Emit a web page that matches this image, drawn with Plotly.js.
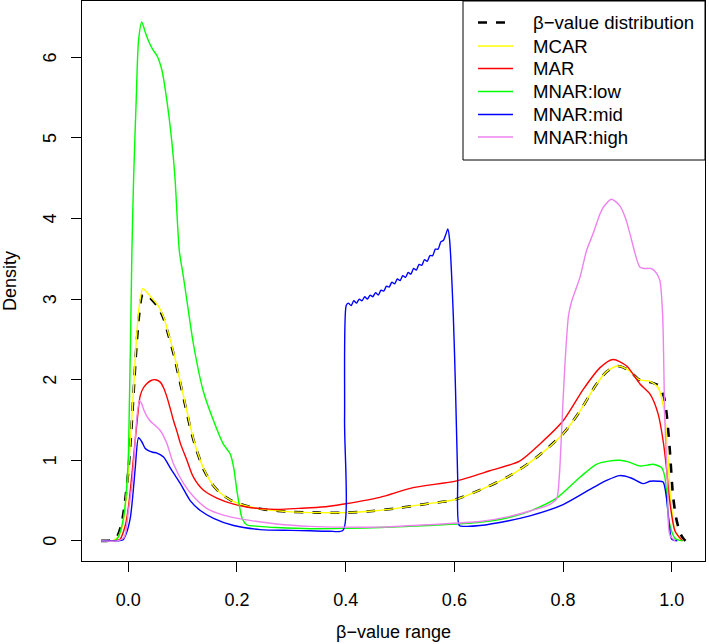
<!DOCTYPE html>
<html>
<head>
<meta charset="utf-8">
<script src="https://cdn.plot.ly/plotly-3.0.1.min.js"></script>
<style>
  html, body { margin: 0; padding: 0; background: #fff; }
  #chart { width: 709px; height: 644px; }
</style>
</head>
<body>
<div id="chart"></div>
<script>
// ---------- Data ----------
const seriesNames = ["β−value distribution", "MCAR", "MAR", "MNAR:low", "MNAR:mid", "MNAR:high"];

const betaX = [-0.05,-0.04,-0.03,-0.02,-0.012,-0.006,0,0.005,0.01,0.015,0.02,0.026,0.033,0.045,0.055,0.065,0.075,0.085,0.095,0.105,0.115,0.125,0.14,0.155,0.17,0.19,0.22,0.25,0.3,0.35,0.4,0.45,0.5,0.55,0.6,0.65,0.7,0.75,0.8,0.83,0.86,0.88,0.9,0.92,0.94,0.96,0.975,0.985,0.99,0.996,1.002,1.008,1.015,1.02,1.025];
const betaY = [0,0,0.01,0.06,0.22,0.48,0.85,1.3,1.85,2.4,2.8,3.05,3.06,2.98,2.9,2.76,2.53,2.28,1.98,1.68,1.38,1.14,0.87,0.7,0.59,0.5,0.43,0.39,0.36,0.35,0.35,0.37,0.41,0.46,0.51,0.64,0.8,1.03,1.33,1.6,1.93,2.1,2.17,2.12,2.0,1.97,1.93,1.8,1.6,1.15,0.57,0.28,0.1,0.04,0];

const mcarX = [-0.05,-0.03,-0.02,-0.01,-0.005,0,0.005,0.01,0.015,0.02,0.027,0.035,0.045,0.055,0.065,0.075,0.085,0.095,0.105,0.115,0.125,0.14,0.155,0.17,0.19,0.22,0.25,0.3,0.35,0.4,0.45,0.5,0.55,0.6,0.65,0.7,0.75,0.8,0.83,0.86,0.88,0.9,0.92,0.94,0.96,0.975,0.985,0.99,0.994,0.998,1.006,1.018];
const mcarY = [0,0,0.04,0.2,0.45,0.85,1.35,1.9,2.5,2.9,3.13,3.08,3.0,2.92,2.78,2.55,2.3,2.0,1.7,1.4,1.15,0.88,0.7,0.59,0.5,0.43,0.39,0.36,0.35,0.35,0.37,0.41,0.46,0.51,0.64,0.8,1.03,1.33,1.6,1.93,2.1,2.17,2.12,2.0,1.98,1.9,1.65,1.33,0.91,0.5,0.12,0];

const marX = [-0.05,-0.03,-0.015,-0.005,0,0.005,0.01,0.016,0.022,0.028,0.034,0.042,0.05,0.059,0.065,0.071,0.077,0.083,0.09,0.096,0.108,0.12,0.138,0.163,0.194,0.218,0.243,0.273,0.304,0.335,0.37,0.4,0.463,0.524,0.604,0.665,0.72,0.757,0.8,0.837,0.868,0.892,0.917,0.941,0.96,0.975,0.984,0.99,0.996,1.006,1.02];
const marY = [0,0,0.02,0.2,0.4,0.7,1.05,1.46,1.8,1.9,1.95,1.99,2.0,1.97,1.9,1.79,1.65,1.5,1.35,1.21,1.0,0.79,0.63,0.53,0.455,0.42,0.4,0.39,0.4,0.41,0.43,0.46,0.54,0.66,0.745,0.87,0.99,1.2,1.49,1.88,2.15,2.25,2.17,1.95,1.82,1.57,1.24,0.91,0.5,0.12,0];

const lowX = [-0.05,-0.025,-0.018,-0.0085,-0.003,0.0006,0.0068,0.01,0.0147,0.019,0.025,0.031,0.037,0.045,0.053,0.062,0.071,0.08,0.086,0.094,0.101,0.108,0.12,0.138,0.157,0.175,0.1875,0.194,0.2,0.205,0.209,0.218,0.24,0.273,0.335,0.4,0.463,0.55,0.647,0.7,0.739,0.788,0.831,0.861,0.884,0.904,0.92,0.941,0.955,0.966,0.981,0.987,0.99,0.996,1.006,1.02];
const lowY = [0,0,0.05,0.29,0.65,1.12,3.6,4.51,5.47,6.21,6.44,6.32,6.21,6.1,6.02,5.84,5.47,4.97,4.51,3.6,3.3,2.98,2.44,1.86,1.49,1.2,1.08,0.91,0.62,0.42,0.29,0.2,0.18,0.165,0.15,0.155,0.165,0.19,0.23,0.29,0.37,0.53,0.79,0.95,0.99,1.0,0.98,0.93,0.94,0.95,0.91,0.8,0.62,0.21,0.03,0];

const midX = [-0.05,-0.02,-0.01,-0.003,0.004,0.009,0.013,0.019,0.025,0.031,0.037,0.045,0.053,0.065,0.077,0.096,0.114,0.132,0.157,0.194,0.243,0.3,0.335,0.37,0.395,0.398,0.401,0.405,0.41,0.415,0.42,0.425,0.43,0.435,0.44,0.445,0.45,0.455,0.46,0.465,0.47,0.475,0.48,0.485,0.49,0.495,0.5,0.505,0.51,0.515,0.52,0.525,0.53,0.535,0.54,0.545,0.55,0.555,0.56,0.565,0.57,0.575,0.58,0.584,0.588,0.591,0.598,0.602,0.606,0.609,0.62,0.647,0.7,0.739,0.8,0.855,0.88,0.904,0.925,0.947,0.96,0.975,0.984,0.99,0.995,1.0,1.01];
const midY = [0,0,0.01,0.1,0.29,0.6,0.91,1.28,1.23,1.15,1.12,1.1,1.09,1.04,0.91,0.71,0.5,0.38,0.28,0.19,0.14,0.13,0.125,0.12,0.13,1.5,2.92,2.95,2.92,2.98,2.95,3.0,2.98,3.03,3.0,3.05,3.03,3.08,3.05,3.11,3.1,3.16,3.15,3.21,3.19,3.25,3.23,3.29,3.27,3.33,3.31,3.38,3.36,3.43,3.42,3.49,3.47,3.54,3.54,3.62,3.62,3.71,3.73,3.8,3.87,3.75,2.8,1.9,0.8,0.19,0.18,0.19,0.25,0.31,0.45,0.66,0.75,0.81,0.78,0.71,0.74,0.74,0.73,0.54,0.21,0.02,0];

const highX = [-0.05,-0.02,-0.007,0,0.007,0.012,0.016,0.021,0.025,0.029,0.034,0.04,0.05,0.059,0.071,0.083,0.102,0.12,0.145,0.175,0.218,0.273,0.335,0.4,0.463,0.55,0.647,0.7,0.739,0.775,0.788,0.793,0.797,0.803,0.81,0.816,0.831,0.843,0.855,0.868,0.874,0.889,0.904,0.915,0.923,0.941,0.95,0.962,0.972,0.978,0.983,0.987,0.992,0.996,1.006];
const highY = [0,0,0.05,0.35,0.71,1.15,1.54,1.74,1.7,1.62,1.55,1.49,1.43,1.37,1.21,0.96,0.71,0.55,0.4,0.32,0.26,0.21,0.18,0.17,0.17,0.2,0.24,0.3,0.37,0.45,0.52,0.8,1.33,2.15,2.8,2.98,3.27,3.6,3.81,4.06,4.14,4.24,4.16,4.0,3.81,3.4,3.38,3.38,3.32,3.23,2.82,1.53,0.7,0.08,0];

const xTickVals = [0, 0.2, 0.4, 0.6, 0.8, 1.0];
const xTickText = ["0.0", "0.2", "0.4", "0.6", "0.8", "1.0"];
const yTickVals = [0, 1, 2, 3, 4, 5, 6];
const yTickText = ["0", "1", "2", "3", "4", "5", "6"];

// ---------- Styling ----------
const FONT = "Liberation Sans, Arial, Helvetica, sans-serif";
const seriesColors = ["#000000", "#FFFF00", "#FF0000", "#00FF00", "#0000FF", "#EE82EE"];
const seriesWidths = [2.6, 1.4, 1.4, 1.4, 1.4, 1.4];
const seriesDash = ["9px,9px", "solid", "solid", "solid", "solid", "solid"];
const seriesX = [betaX, mcarX, marX, lowX, midX, highX];
const seriesY = [betaY, mcarY, marY, lowY, midY, highY];

const W = 709, H = 644;
const M = { l: 82, r: 4, t: 1, b: 83 };
const plotW = W - M.l - M.r, plotH = H - M.t - M.b;
const px2paperX = (px) => (px - M.l) / plotW;
const py2paperY = (py) => (H - M.b - py) / plotH;

const traces = seriesNames.map((name, i) => ({
  type: "scatter", mode: "lines", name: name,
  x: seriesX[i], y: seriesY[i],
  line: { color: seriesColors[i], width: seriesWidths[i], dash: seriesDash[i], shape: "spline", smoothing: 0.7 },
  hoverinfo: "skip", showlegend: false
}));

// ---------- R-style legend box (top right) ----------
const legBox = { x0: 463, x1: 705, y0: 1, y1: 160 };
const legRowY = [22.5, 46, 68.5, 91.5, 114.5, 137];
const legLineX = [478, 513];
const legTextX = 531;

const shapes = [{
  type: "rect", xref: "paper", yref: "paper", layer: "above",
  x0: px2paperX(legBox.x0), x1: px2paperX(legBox.x1),
  y0: py2paperY(legBox.y1), y1: py2paperY(legBox.y0),
  line: { color: "#000000", width: 1 }, fillcolor: "#ffffff"
}];
const annotations = [];
seriesNames.forEach((name, i) => {
  shapes.push({
    type: "line", xref: "paper", yref: "paper", layer: "above",
    x0: px2paperX(legLineX[0]), x1: px2paperX(legLineX[1]),
    y0: py2paperY(legRowY[i]), y1: py2paperY(legRowY[i]),
    line: { color: seriesColors[i], width: seriesWidths[i], dash: seriesDash[i] }
  });
  annotations.push({
    xref: "paper", yref: "paper", x: px2paperX(legTextX), y: py2paperY(legRowY[i]),
    xanchor: "left", yanchor: "middle", showarrow: false, text: name,
    font: { family: FONT, size: 18.6, color: "#000000" }
  });
});

// y tick labels, rotated like R's default (las = 0), placed on the y axis scale
yTickVals.forEach((v, i) => {
  annotations.push({
    xref: "paper", yref: "y", x: px2paperX(50), y: v,
    xanchor: "center", yanchor: "middle", textangle: -90, showarrow: false,
    text: yTickText[i], font: { family: FONT, size: 18, color: "#000000" }
  });
});

const layout = {
  width: W, height: H, margin: M,
  paper_bgcolor: "#ffffff", plot_bgcolor: "#ffffff",
  font: { family: FONT, size: 18, color: "#000000" },
  showlegend: false,
  shapes: shapes, annotations: annotations,
  xaxis: {
    range: [-0.085, 1.061], tickmode: "array",
    tickvals: xTickVals, ticktext: xTickText,
    ticks: "outside", ticklen: 10, tickwidth: 1, tickcolor: "#000000",
    showline: true, mirror: true, linecolor: "#000000", linewidth: 1,
    showgrid: false, zeroline: false,
    tickfont: { family: FONT, size: 18 },
    ticklabelstandoff: 12,
    title: { text: "β−value range", font: { family: FONT, size: 18 }, standoff: 16 }
  },
  yaxis: {
    range: [-0.25, 6.70], tickmode: "array",
    tickvals: yTickVals, ticktext: yTickText, showticklabels: false,
    ticks: "outside", ticklen: 10, tickwidth: 1, tickcolor: "#000000",
    showline: true, mirror: true, linecolor: "#000000", linewidth: 1,
    showgrid: false, zeroline: false,
    title: { text: "Density", font: { family: FONT, size: 18 }, standoff: 52 }
  }
};

Plotly.newPlot("chart", traces, layout, { displayModeBar: false, staticPlot: true });
</script>
</body>
</html>
